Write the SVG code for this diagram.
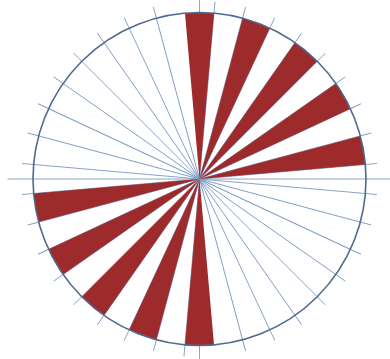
<svg xmlns="http://www.w3.org/2000/svg" xmlns:xlink="http://www.w3.org/1999/xlink" width="390" height="359" viewBox="0 0 390 359">
  <style>
    .ray { stroke: #7f9cc4; stroke-width: 0.9; fill: none; }
    .axis { stroke: #7f9cc4; stroke-width: 0.9; fill: none; }
    .wedge { fill: #9e2b2b; stroke: none; }
    .rim { fill: none; stroke: #4f6a8c; stroke-width: 1.6; }
  </style>
  <defs>
    <line id="ray" x1="0" y1="-178" x2="0" y2="178" class="ray"/>
    <line id="axis" x1="0" y1="-192" x2="0" y2="192" class="axis"/>
    <path id="wedge" class="wedge" d="M0,0 L-14.51,-165.87 A166.5,166.5 0 0 1 14.51,-165.87 Z"/>
  </defs>
  <rect width="390" height="359" fill="#ffffff"/>
  <g id="rays" transform="translate(199.5,179)">
    <use xlink:href="#axis" href="#axis"/>
    <use xlink:href="#axis" href="#axis" transform="rotate(90)"/>
    <use xlink:href="#ray" href="#ray" transform="rotate(5)"/>
    <use xlink:href="#ray" href="#ray" transform="rotate(15)"/>
    <use xlink:href="#ray" href="#ray" transform="rotate(25)"/>
    <use xlink:href="#ray" href="#ray" transform="rotate(35)"/>
    <use xlink:href="#ray" href="#ray" transform="rotate(45)"/>
    <use xlink:href="#ray" href="#ray" transform="rotate(55)"/>
    <use xlink:href="#ray" href="#ray" transform="rotate(65)"/>
    <use xlink:href="#ray" href="#ray" transform="rotate(75)"/>
    <use xlink:href="#ray" href="#ray" transform="rotate(85)"/>
    <use xlink:href="#ray" href="#ray" transform="rotate(95)"/>
    <use xlink:href="#ray" href="#ray" transform="rotate(105)"/>
    <use xlink:href="#ray" href="#ray" transform="rotate(115)"/>
    <use xlink:href="#ray" href="#ray" transform="rotate(125)"/>
    <use xlink:href="#ray" href="#ray" transform="rotate(135)"/>
    <use xlink:href="#ray" href="#ray" transform="rotate(145)"/>
    <use xlink:href="#ray" href="#ray" transform="rotate(155)"/>
    <use xlink:href="#ray" href="#ray" transform="rotate(165)"/>
  </g>
  <g id="wedges" transform="translate(199.5,179)">
    <use xlink:href="#wedge" href="#wedge"/>
    <use xlink:href="#wedge" href="#wedge" transform="rotate(20)"/>
    <use xlink:href="#wedge" href="#wedge" transform="rotate(40)"/>
    <use xlink:href="#wedge" href="#wedge" transform="rotate(60)"/>
    <use xlink:href="#wedge" href="#wedge" transform="rotate(80)"/>
    <use xlink:href="#wedge" href="#wedge" transform="rotate(180)"/>
    <use xlink:href="#wedge" href="#wedge" transform="rotate(200)"/>
    <use xlink:href="#wedge" href="#wedge" transform="rotate(220)"/>
    <use xlink:href="#wedge" href="#wedge" transform="rotate(240)"/>
    <use xlink:href="#wedge" href="#wedge" transform="rotate(260)"/>
  </g>
  <g id="circle">
    <circle class="rim" cx="199.5" cy="179" r="166.5"/>
  </g>
</svg>
